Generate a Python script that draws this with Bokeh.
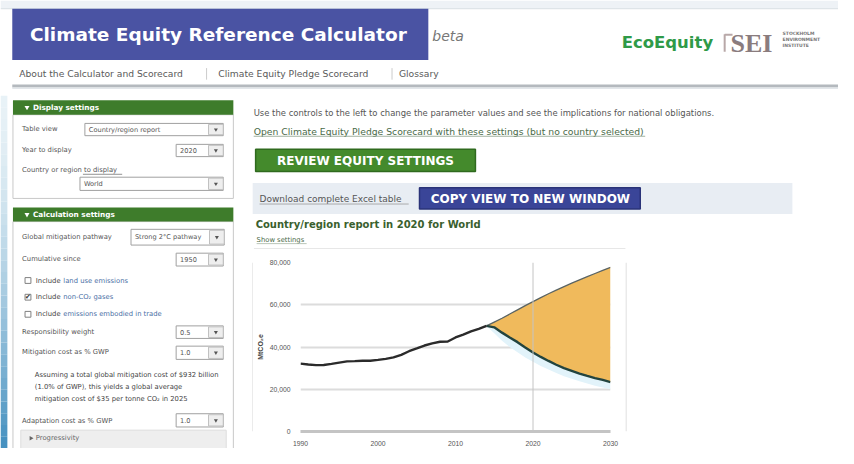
from bokeh.plotting import figure
from bokeh.models import Range1d, Span, FixedTicker, NumeralTickFormatter
from bokeh.layouts import column, row
from bokeh.embed import file_html
from bokeh.resources import INLINE
from bokeh.core.properties import value

# ---------------- data ----------------
hist_years = [1990, 1991, 1992, 1993, 1994, 1995, 1996, 1997, 1998, 1999, 2000, 2001, 2002,
              2003, 2004, 2005, 2006, 2007, 2008, 2009, 2010, 2011, 2012, 2013, 2014]
hist_emissions = [32150, 31700, 31400, 31500, 32000, 32600, 33200, 33300, 33500, 33500, 33900,
                  34400, 35100, 36300, 38000, 39300, 40700, 41700, 42500, 42600, 44500, 45900,
                  47400, 48600, 50000]
proj_years = [2014, 2015, 2016, 2017, 2018, 2019, 2020, 2021, 2022, 2023, 2024, 2025, 2026,
              2027, 2028, 2029, 2030]
baseline = [50000, 51800, 53600, 55600, 57600, 59600, 61500, 63400, 65200, 66900, 68600, 70200,
            71800, 73300, 74800, 76300, 77700]
pathway = [50000, 49300, 46800, 44500, 42300, 39800, 37400, 35300, 33400, 31600, 30000, 28700,
           27400, 26300, 25300, 24400, 23400]
pathway_low = [50000, 46500, 43000, 40000, 37500, 35000, 33000, 31000, 29300, 27700, 26200,
               25000, 23800, 22700, 21700, 20800, 20000]
x_ticks = [1990, 2000, 2010, 2020, 2030]
y_ticks = [0, 20000, 40000, 60000, 80000]
display_year = 2020
region = "World"

# ---------------- helpers ----------------
W, H = 838, 448
SX, SY = W / 854.0, H / 464.0
BODY = "DejaVu Sans"


def canvas(w, h, x0, y0, bg="white"):
    x1 = x0 + w / SX
    y1 = y0 + h / SY
    p = figure(width=w, height=h, x_range=Range1d(x0, x1), y_range=Range1d(y1, y0),
               output_backend="svg", toolbar_location=None, min_border=0,
               x_axis_location=None, y_axis_location=None)
    p.grid.visible = False
    p.outline_line_color = None
    p.background_fill_color = bg
    p.border_fill_color = bg
    return p


def txt(p, x, y, s, size, color="#555555", font=BODY, style="normal", align="left"):
    p.text(x=[x], y=[y], text=[s], text_font_size=f"{size}px", text_color=color,
           text_font=value(font), text_font_style=style, text_align=align,
           text_baseline="middle")


def box(p, l, r, t, b, fill, line=None, lw=1.0):
    p.quad(left=[l], right=[r], top=[t], bottom=[b], fill_color=fill,
           line_color=line, line_width=lw)


def seg(p, x0, y0, x1, y1, color, w=1.0):
    p.segment(x0=[x0], y0=[y0], x1=[x1], y1=[y1], line_color=color, line_width=w)


def dropdown(p, l, r, t, b, label):
    box(p, l, r, t, b, "white", "#a0a0a0", 1)
    box(p, r - 15, r, t + 1, b - 1, "#eeeeee", "#c0c0c0", 1)
    p.scatter(x=[r - 7.5], y=[(t + b) / 2], marker="inverted_triangle", size=4,
              fill_color="#555555", line_color=None)
    txt(p, l + 4, (t + b) / 2, label, 6.6)


def checkbox(p, x, y, checked=False):
    box(p, x, x + 6, y - 3, y + 3, "white", "#808080", 1)
    if checked:
        txt(p, x + 3, y, "\u2714", 7, "#333333", "DejaVu Sans", align="center")


# ---------------- header ----------------
hdr = canvas(W, 95, 0, 0)
box(hdr, 0, 854, 0, 8, "#eef2f6")
seg(hdr, 0, 8.5, 854, 8.5, "#d7dde3", 1)
box(hdr, 12, 436, 8.5, 61.5, "#4a53a3")
txt(hdr, 30, 35, "Climate Equity Reference Calculator", 18.5, "white", "DejaVu Sans", "bold")
txt(hdr, 440, 37, "beta", 14, "#777777", "DejaVu Sans", "italic")
txt(hdr, 633, 43.5, "EcoEquity", 16.5, "#2f9a48", "DejaVu Sans", "bold")
seg(hdr, 738, 35, 738, 53, "#b8a8a8", 2)
seg(hdr, 738, 35.5, 746, 35.5, "#b8a8a8", 2)
txt(hdr, 744, 45, "SEI", 26, "#8a7c7e", "Liberation Serif", "bold")
txt(hdr, 797, 34.5, "STOCKHOLM", 4.5, "#777777", "DejaVu Sans", "bold")
txt(hdr, 797, 40.5, "ENVIRONMENT", 4.5, "#777777", "DejaVu Sans", "bold")
txt(hdr, 797, 46.5, "INSTITUTE", 4.5, "#777777", "DejaVu Sans", "bold")
txt(hdr, 19, 76, "About the Calculator and Scorecard", 9.2, "#5a5a5a")
seg(hdr, 210, 70, 210, 82, "#cccccc", 1)
txt(hdr, 222, 76, "Climate Equity Pledge Scorecard", 9.2, "#5a5a5a")
seg(hdr, 399, 70, 399, 82, "#cccccc", 1)
txt(hdr, 406, 76, "Glossary", 9.2, "#5a5a5a")
seg(hdr, 12, 88.5, 854, 88.5, "#b4b9be", 3)
seg(hdr, 12, 91, 854, 91, "#e2e6ea", 1.5)

# ---------------- sidebar ----------------
top_y = 95 / SY
sb = canvas(245, 353, 0, top_y)
n = 30
c0 = (232, 242, 247)
c1 = (70, 145, 192)
for i in range(n):
    f = i / (n - 1)
    col = "#%02x%02x%02x" % tuple(int(c0[k] + (c1[k] - c0[k]) * f ** 1.6) for k in range(3))
    ya = top_y + (464 - top_y) * i / n
    yb = top_y + (464 - top_y) * (i + 1) / n
    box(sb, 0, 7, ya, yb, col)

green = "#3e7c2b"
LS = 6.8
# panel 1
box(sb, 12.7, 237.3, 118.3, 205, "white", "#c8c8c8", 1)
box(sb, 12.7, 237.3, 103.3, 118.3, green)
sb.scatter(x=[27], y=[110.8], marker="inverted_triangle", size=5, fill_color="white", line_color=None)
txt(sb, 33, 110.8, "Display settings", 7.3, "white", style="bold")
txt(sb, 22, 133.5, "Table view", LS)
dropdown(sb, 86, 227, 127.3, 140, "Country/region report")
txt(sb, 22, 155, "Year to display", LS)
dropdown(sb, 179, 227, 149, 161.7, str(display_year))
txt(sb, 22, 175.7, "Country or region to display", LS)
seg(sb, 84, 180, 124, 180, "#777777", 0.8)
dropdown(sb, 81, 227, 183, 196.7, region)

# panel 2
box(sb, 12.7, 237.3, 229, 480, "white", "#c8c8c8", 1)
box(sb, 12.7, 237.3, 214.3, 229, green)
sb.scatter(x=[27], y=[221.7], marker="inverted_triangle", size=5, fill_color="white", line_color=None)
txt(sb, 33, 221.7, "Calculation settings", 7.3, "white", style="bold")
txt(sb, 22, 245, "Global mitigation pathway", LS)
dropdown(sb, 133, 228, 237, 253.3, "Strong 2\u00b0C pathway")
txt(sb, 22, 267.7, "Cumulative since", LS)
dropdown(sb, 179, 227, 261.7, 275, "1950")
link = "#4a6fa5"
checkbox(sb, 25, 290)
txt(sb, 36, 290, "Include", LS, "#444444")
txt(sb, 64, 290, "land use emissions", LS, link)
checkbox(sb, 25, 307.3, True)
txt(sb, 36, 307.3, "Include", LS, "#444444")
txt(sb, 64, 307.3, "non-CO\u2082 gases", LS, link)
checkbox(sb, 25, 325)
txt(sb, 36, 325, "Include", LS, "#444444")
txt(sb, 64, 325, "emissions embodied in trade", LS, link)
txt(sb, 22, 343.3, "Responsibility weight", LS)
dropdown(sb, 179, 227, 337, 350, "0.5")
txt(sb, 22, 364.3, "Mitigation cost as % GWP", LS)
dropdown(sb, 179, 227, 358, 371.7, "1.0")
txt(sb, 35, 388.3, "Assuming a total global mitigation cost of $932 billion", LS, "#444444")
txt(sb, 35, 400.5, "(1.0% of GWP), this yields a global average", LS, "#444444")
txt(sb, 35, 413, "mitigation cost of $35 per tonne CO\u2082 in 2025", LS, "#444444")
txt(sb, 22, 435, "Adaptation cost as % GWP", LS)
dropdown(sb, 179, 227, 428, 441.7, "1.0")
box(sb, 20.7, 230, 445, 480, "#eeeeee", "#dddddd", 1)
sb.scatter(x=[31], y=[453.5], marker="triangle", angle=-1.5708, size=4.5, fill_color="#666666", line_color=None)
txt(sb, 36, 453.5, "Progressivity", LS, "#666666")

# ---------------- right top ----------------
rx0 = 245 / SX
rt = canvas(593, 154, rx0, top_y)
txt(rt, 258, 116, "Use the controls to the left to change the parameter values and see the implications for national obligations.", 8.45, "#555555")
txt(rt, 258, 135.7, "Open Climate Equity Pledge Scorecard with these settings (but no country selected)", 9.25, "#4a6a48")
seg(rt, 258, 140.6, 657, 140.6, "#8aa088", 0.8)
box(rt, 260, 484, 154, 177, "#448a2c", "#2f6a1e", 1.5)
txt(rt, 372, 165.8, "REVIEW EQUITY SETTINGS", 12, "white", "DejaVu Sans", "bold", "center")
box(rt, 257, 807, 189, 221, "#e8edf3")
txt(rt, 264, 206, "Download complete Excel table", 9, "#555555")
seg(rt, 264, 210.8, 416, 210.8, "#999999", 0.8)
box(rt, 427, 652, 194, 216, "#3a4598", "#2a3378", 1.5)
txt(rt, 540, 205.5, "COPY VIEW TO NEW WINDOW", 12, "white", "DejaVu Sans", "bold", "center")
txt(rt, 260, 232, f"Country/region report in {display_year} for {region}", 10, "#3a5f2e", style="bold")
txt(rt, 261, 248, "Show settings", 6.8, "#4a6a48")
seg(rt, 261, 251.8, 312, 251.8, "#8aa088", 0.6)
seg(rt, 258.3, 257.3, 636.9, 257.3, "#d6d6d6", 1)

# ---------------- chart row ----------------
lsp = figure(width=8, height=199, x_range=Range1d(0, 8), y_range=Range1d(0, 199),
             output_backend="svg", toolbar_location=None, min_border=0,
             x_axis_location=None, y_axis_location=None)
lsp.grid.visible = False
lsp.outline_line_color = None
lsp.segment(x0=[7.5], y0=[0], x1=[7.5], y1=[199], line_color="#d6d6d6", line_width=1)

rsp = figure(width=213, height=199, x_range=Range1d(0, 213), y_range=Range1d(0, 199),
             output_backend="svg", toolbar_location=None, min_border=0,
             x_axis_location=None, y_axis_location=None)
rsp.grid.visible = False
rsp.outline_line_color = None
rsp.segment(x0=[0.5], y0=[0], x1=[0.5], y1=[199], line_color="#d6d6d6", line_width=1)

p = figure(width=372, height=199, x_range=Range1d(1990, 2030), y_range=Range1d(0, 80000),
           output_backend="svg", toolbar_location=None,
           min_border_left=43, min_border_right=15, min_border_top=13, min_border_bottom=14)
p.outline_line_color = None
p.xgrid.visible = False
p.ygrid.grid_line_color = "#dcdcdc"
p.ygrid.grid_line_width = 2
p.xaxis.ticker = FixedTicker(ticks=x_ticks)
p.yaxis.ticker = FixedTicker(ticks=y_ticks)
p.yaxis.formatter = NumeralTickFormatter(format="0,0")
for ax in (p.xaxis[0], p.yaxis[0]):
    ax.major_tick_line_color = None
    ax.minor_tick_line_color = None
    ax.major_label_text_font_size = "6.8px"
    ax.major_label_text_font = "Liberation Sans"
    ax.major_label_text_color = "#555555"
    ax.major_label_standoff = 4
p.xaxis.major_label_standoff = 3
p.yaxis.axis_line_color = None
p.xaxis.axis_line_color = "#c4c4c4"
p.xaxis.axis_line_width = 3
p.yaxis.axis_label = "MtCO\u2082e"
p.yaxis.axis_label_text_font_size = "7px"
p.yaxis.axis_label_text_font = "Liberation Sans"
p.yaxis.axis_label_text_font_style = "bold"
p.yaxis.axis_label_text_color = "#444444"
p.yaxis.axis_label_standoff = 3

p.varea(x=proj_years, y1=pathway_low, y2=pathway, fill_color="#e2f3fa", fill_alpha=1)
p.varea(x=proj_years, y1=pathway, y2=baseline, fill_color="#f0ba5c", fill_alpha=1)
p.add_layout(Span(location=display_year, dimension="height", line_color="#c4c4c4", line_width=1))
p.line(proj_years, baseline, line_color="#5a6464", line_width=1.3)
p.line(proj_years, pathway, line_color="#23443f", line_width=2.4)
p.line(hist_years, hist_emissions, line_color="#2b2b2b", line_width=2.4)

layout = column(hdr, row(sb, column(rt, row(lsp, p, rsp))))

open("out.html", "w").write(file_html(layout, INLINE))
